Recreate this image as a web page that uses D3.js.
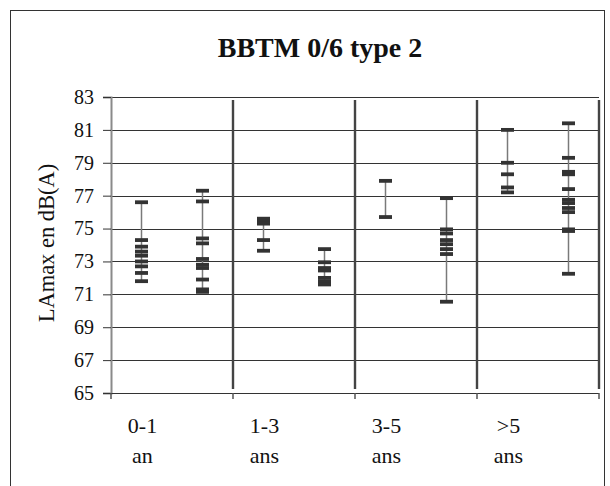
<!DOCTYPE html>
<html>
<head>
<meta charset="utf-8">
<script src="https://cdn.jsdelivr.net/npm/d3@7"></script>
<style>
  html, body { margin: 0; padding: 0; background: #fff; }
  svg { display: block; font-family: "Liberation Serif", "Times New Roman", "DejaVu Serif", serif; }
  svg text { font-family: "Liberation Serif", "Times New Roman", "DejaVu Serif", serif !important; fill: #111; }
</style>
</head>
<body>
<svg id="chart" width="610" height="486"></svg>
<script>
// ---- data ----
const categories = ["0-1 an", "1-3 ans", "3-5 ans", ">5 ans"];
const labelLine1 = ["0-1", "1-3", "3-5", ">5"];
const labelLine2 = ["an", "ans", "ans", "ans"];
const seriesNames = ["A", "B"];
const seriesA = [
  [76.6, 74.3, 73.9, 73.6, 73.35, 73.0, 72.7, 72.3, 71.8],
  [75.6, 75.45, 75.3, 74.3, 73.65],
  [77.9, 75.7],
  [81.0, 79.0, 78.3, 77.5, 77.2]
];
const seriesB = [
  [77.3, 76.65, 74.4, 74.1, 73.15, 72.8, 72.6, 71.9, 71.3, 71.15],
  [73.75, 72.95, 72.6, 72.45, 72.0, 71.8, 71.6],
  [76.85, 74.95, 74.7, 74.3, 74.05, 73.75, 73.45, 70.55],
  [81.4, 79.3, 78.45, 78.3, 77.4, 76.75, 76.55, 76.25, 76.0, 74.95, 74.85, 72.25]
];
const yTicks = [65, 67, 69, 71, 73, 75, 77, 79, 81, 83];
const title = "BBTM 0/6 type 2";
const yTitle = "LAmax en dB(A)";

// ---- layout ----
const FONT = '"Liberation Serif", "Times New Roman", "DejaVu Serif", serif';
const svg = d3.select("#chart");
const plot = { left: 111, right: 599, top: 97, bottom: 393 };

const x = d3.scaleBand().domain(categories).range([plot.left, plot.right]).padding(0);
const xs = d3.scaleBand().domain(seriesNames).range([0, x.bandwidth()]).padding(0);
const y = d3.scaleLinear().domain([65, 83]).range([plot.bottom, plot.top]);

// outer frame
svg.append("rect")
  .attr("x", 10.5).attr("y", 10.5)
  .attr("width", 594).attr("height", 520)
  .attr("fill", "none").attr("stroke", "#333").attr("stroke-width", 1);

// title
svg.append("text")
  .attr("x", 320).attr("y", 57)
  .attr("text-anchor", "middle")
  .style("font-family", FONT)
  .attr("font-size", 28).attr("font-weight", "bold")
  .text(title);

// gridlines
svg.append("g").selectAll("line")
  .data(yTicks.filter(v => v > 65))
  .join("line")
  .attr("x1", plot.left).attr("x2", plot.right)
  .attr("y1", d => Math.round(y(d)) + 0.5).attr("y2", d => Math.round(y(d)) + 0.5)
  .attr("stroke", "#333").attr("stroke-width", 1);

// y axis
const yAxis = svg.append("g")
  .attr("transform", `translate(${plot.left},0)`)
  .call(d3.axisLeft(y).tickValues(yTicks).tickSize(8).tickPadding(9).tickFormat(d3.format("d")));
yAxis.attr("font-family", null);
yAxis.select(".domain").attr("stroke", "#8a8a8a").attr("stroke-width", 2);
yAxis.selectAll(".tick line").attr("stroke", "#333");
yAxis.selectAll(".tick text")
  .attr("font-size", 20)
  .style("font-family", FONT)
  .attr("fill", "#111");

// y title
svg.append("text")
  .attr("transform", `translate(54,243) rotate(-90)`)
  .attr("text-anchor", "middle")
  .style("font-family", FONT)
  .attr("font-size", 22.5)
  .text(yTitle);

// x axis line
svg.append("line")
  .attr("x1", plot.left).attr("x2", plot.right)
  .attr("y1", Math.round(y(65)) + 0.5).attr("y2", Math.round(y(65)) + 0.5)
  .attr("stroke", "#333").attr("stroke-width", 1);

// x ticks at category boundaries
const bounds = categories.map(c => x(c)).concat([x(categories[categories.length - 1]) + x.bandwidth()]);
svg.append("g").selectAll("line")
  .data(bounds)
  .join("line")
  .attr("x1", d => d).attr("x2", d => d)
  .attr("y1", y(65)).attr("y2", y(65) + 6)
  .attr("stroke", "#555").attr("stroke-width", 1.5);

// category separators
svg.append("g").selectAll("line")
  .data(bounds.slice(1))
  .join("line")
  .attr("x1", d => d).attr("x2", d => d)
  .attr("y1", y(83) + 3).attr("y2", y(65) - 4)
  .attr("stroke", "#444").attr("stroke-width", 2.4);

// category labels
const lab = svg.append("g");
lab.selectAll("text.l1")
  .data(categories)
  .join("text")
  .attr("class", "l1")
  .attr("x", d => x(d) + xs("A") + xs.bandwidth() / 2 + 1)
  .attr("y", 433)
  .attr("text-anchor", "middle")
  .style("font-family", FONT)
  .attr("font-size", 22)
  .text((d, i) => labelLine1[i]);
lab.selectAll("text.l2")
  .data(categories)
  .join("text")
  .attr("class", "l2")
  .attr("x", d => x(d) + xs("A") + xs.bandwidth() / 2 + 1)
  .attr("y", 463)
  .attr("text-anchor", "middle")
  .style("font-family", FONT)
  .attr("font-size", 22)
  .text((d, i) => labelLine2[i]);

// series marks
const groups = [];
categories.forEach((c, i) => {
  groups.push({ cat: c, s: "A", vals: seriesA[i] });
  groups.push({ cat: c, s: "B", vals: seriesB[i] });
});

const g = svg.append("g").selectAll("g")
  .data(groups)
  .join("g")
  .attr("transform", d => `translate(${x(d.cat) + xs(d.s) + xs.bandwidth() / 2},0)`);

g.append("line")
  .attr("x1", 0).attr("x2", 0)
  .attr("y1", d => y(d3.max(d.vals))).attr("y2", d => y(d3.min(d.vals)))
  .attr("stroke", "#7a7a7a").attr("stroke-width", 1.5);

g.selectAll("rect")
  .data(d => d.vals)
  .join("rect")
  .attr("x", -6.5).attr("width", 13)
  .attr("y", v => y(v) - 1.9).attr("height", 3.8)
  .attr("fill", "#333");
</script>
</body>
</html>
